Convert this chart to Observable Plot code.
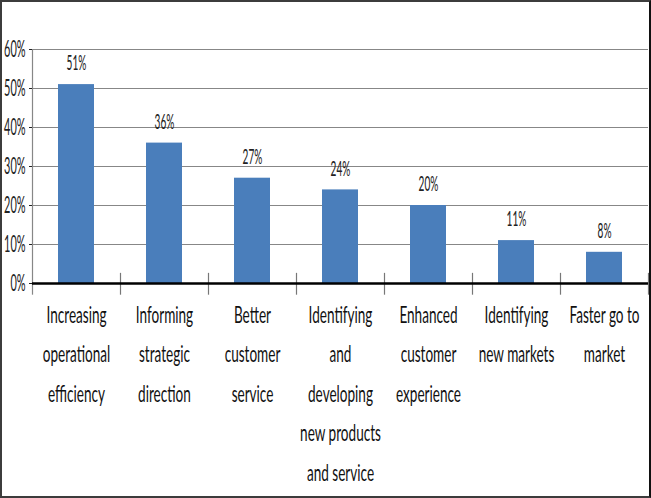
<!DOCTYPE html>
<html><head><meta charset="utf-8">
<script src="https://cdn.jsdelivr.net/npm/d3@7"></script>
<script src="https://cdn.jsdelivr.net/npm/@observablehq/plot@0.6"></script>
<style>
html,body{margin:0;padding:0;background:#fff;}
#wrap{position:relative;width:651px;height:498px;overflow:hidden;}
#frame{position:absolute;left:0;top:0;width:651px;height:498px;box-sizing:border-box;border:2px solid #3c3c3c;border-right-color:#111;pointer-events:none;}
</style></head><body>
<div id="wrap"><div id="chart"></div><div id="frame"></div></div>
<script>
const categories = ["Increasing\noperational\nefficiency", "Informing\nstrategic\ndirection", "Better\ncustomer\nservice", "Identifying\nand\ndeveloping\nnew products\nand service", "Enhanced\ncustomer\nexperience", "Identifying\nnew markets", "Faster go to\nmarket"];
const values = [51, 36, 27, 24, 20, 11, 8];
const yTicks = [0, 10, 20, 30, 40, 50, 60];
const data = categories.map((c, i) => ({category: c, value: values[i]}));

const W = 651, H = 498, ML = 32, MR = 3, MT = 49, MB = 215;
const step = (W - ML - MR) / categories.length;
const font = "Lato, 'Liberation Sans', sans-serif";

const chart = Plot.plot({
  width: W, height: H, marginLeft: ML, marginRight: MR, marginTop: MT, marginBottom: MB,
  style: {fontFamily: font, background: "#fff", overflow: "visible"},
  x: {domain: categories, paddingInner: 0.59, paddingOuter: 0.295, align: 0.5, label: null},
  y: {domain: [0, 60], label: null},
  marks: [
    Plot.ruleY(yTicks.filter(d => d > 0), {stroke: "#878787", strokeWidth: 1.2}),
    Plot.barY(data, {x: "category", y: "value", fill: "#4A7EBB"}),
    Plot.ruleX([categories[0]], {x: d => d, dx: -step / 2, y1: -3, y2: 60, stroke: "#878787", strokeWidth: 1.2}),
    Plot.ruleX(categories.slice(1), {x: d => d, dx: -step / 2, y1: -3, y2: 2.6, stroke: "#777", strokeWidth: 1.2}),
    Plot.ruleX([categories[categories.length - 1]], {x: d => d, dx: step / 2, y1: -3, y2: 2.6, stroke: "#777", strokeWidth: 1.2}),
    Plot.ruleY([0], {stroke: "#000", strokeWidth: 2.5}),
    Plot.axisY({ticks: yTicks, tickSize: 3, tickPadding: 4, tickFormat: d => d + "%", fontSize: 23, color: "#222"}),
    Plot.axisX({tickSize: 0, tickPadding: 11, fontSize: 23, lineHeight: 1.72, color: "#111"}),
    Plot.text(data, {x: "category", y: "value", text: d => d.value + "%", dy: -21, fontSize: 21, lineAnchor: "middle", fill: "#222"})
  ]
});
document.getElementById("chart").appendChild(chart);

function squeeze(sel, sx) {
  d3.select(chart).selectAll(sel).each(function () {
    const t = d3.select(this);
    let tr = t.attr("transform");
    if (!tr) {
      tr = `translate(${+t.attr("x") || 0},${+t.attr("y") || 0})`;
      t.attr("x", null).attr("y", null);
    }
    t.attr("transform", tr + ` scale(${sx},1)`);
  });
}
squeeze('g[aria-label="x-axis tick label"] text', 0.59);
squeeze('g[aria-label="y-axis tick label"] text', 0.475);
squeeze('g[aria-label="text"] text', 0.48);
</script>
</body></html>
